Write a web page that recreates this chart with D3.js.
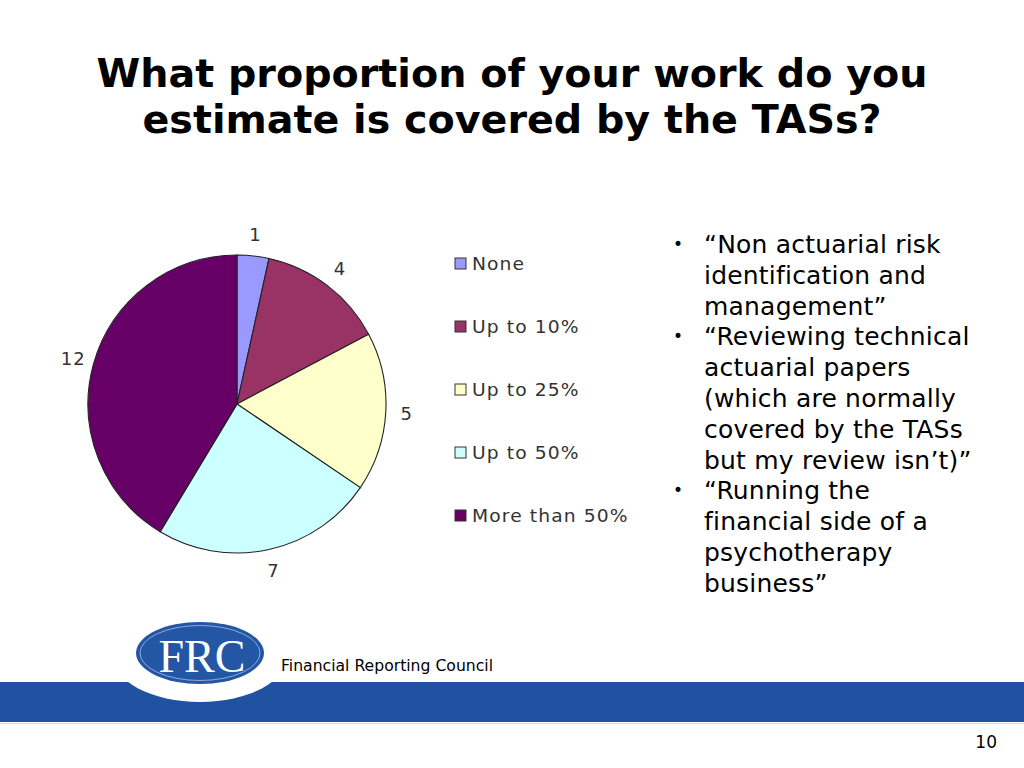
<!DOCTYPE html>
<html><head><meta charset="utf-8">
<script src="https://cdn.jsdelivr.net/npm/d3@7"></script>
<style>body{margin:0;background:#fff}svg{display:block}</style>
</head><body>
<script>
const categories = ["None", "Up to 10%", "Up to 25%", "Up to 50%", "More than 50%"];
const values = [1, 4, 5, 7, 12];
const colors = ["#9999FF", "#993366", "#FFFFCC", "#CCFFFF", "#660066"];
const titleLines = ["What proportion of your work do you", "estimate is covered by the TASs?"];
const bullets = [
  ["\u201CNon actuarial risk", "identification and", "management\u201D"],
  ["\u201CReviewing technical", "actuarial papers", "(which are normally", "covered by the TASs", "but my review isn\u2019t)\u201D"],
  ["\u201CRunning the", "financial side of a", "psychotherapy", "business\u201D"]
];

const W = 1024, H = 768;
const svg = d3.select("body").append("svg").attr("width", W).attr("height", H);
const font = "Verdana, 'DejaVu Sans', sans-serif";

// Title
const titleWidths = [831, 739];
svg.append("g").selectAll("text").data(titleLines).join("text")
  .attr("x", 512).attr("y", (d, i) => 87 + i * 46)
  .attr("text-anchor", "middle").attr("font-family", font).attr("font-weight", "bold")
  .attr("font-size", 39).attr("fill", "#000")
  .attr("textLength", (d, i) => titleWidths[i]).attr("lengthAdjust", "spacingAndGlyphs")
  .text(d => d);

// Pie
const cx = 237, cy = 404, r = 149;
const pie = d3.pie().sort(null).value(d => d.v);
const data = pie(categories.map((c, i) => ({c, v: values[i], col: colors[i]})));
const arc = d3.arc().innerRadius(0).outerRadius(r);
const labelArc = d3.arc().innerRadius(170).outerRadius(170);
const g = svg.append("g").attr("transform", `translate(${cx},${cy})`);
g.selectAll("path").data(data).join("path")
  .attr("d", arc).attr("fill", d => d.data.col)
  .attr("stroke", "#222").attr("stroke-width", 1.1);
g.selectAll("text").data(data).join("text")
  .attr("transform", d => `translate(${labelArc.centroid(d)})`)
  .attr("text-anchor", "middle").attr("dy", "0.36em")
  .attr("font-family", font).attr("font-size", 18).attr("letter-spacing", 1).attr("fill", "#333")
  .text(d => d.data.v);

// Legend
const leg = svg.append("g");
const rowY = d3.scalePoint().domain(categories).range([264, 516]);
const li = leg.selectAll("g").data(categories).join("g")
  .attr("transform", d => `translate(455,${rowY(d)})`);
li.append("rect").attr("x", 0).attr("y", -6).attr("width", 11).attr("height", 11)
  .attr("fill", (d, i) => colors[i]).attr("stroke", "#333").attr("stroke-width", 1);
li.append("text").attr("transform", "translate(17,0) scale(1.1,1)").attr("dy", "0.36em")
  .attr("font-family", font).attr("font-size", 17).attr("letter-spacing", 1)
  .attr("fill", "#333").text(d => d);

// Bullets
const bg = svg.append("g");
let lineIdx = 0;
const lineH = 30.8, y0 = 253;
bullets.forEach(b => {
  bg.append("text").attr("x", 673).attr("y", y0 + lineIdx * lineH - 3)
    .attr("font-family", font).attr("font-size", 17).attr("fill", "#000").text("\u2022");
  b.forEach(t => {
    bg.append("text").attr("x", 704).attr("y", y0 + lineIdx * lineH)
      .attr("font-family", font).attr("font-size", 25).attr("letter-spacing", 0.2)
      .attr("fill", "#000").text(t);
    lineIdx++;
  });
});

// Footer band
svg.append("rect").attr("x", 0).attr("y", 682).attr("width", W).attr("height", 40).attr("fill", "#2152A2");
svg.append("line").attr("x1", 0).attr("x2", W).attr("y1", 723.5).attr("y2", 723.5).attr("stroke", "#d8dde8");
// Logo
svg.append("ellipse").attr("cx", 200).attr("cy", 655).attr("rx", 88).attr("ry", 47).attr("fill", "#fff");
svg.append("ellipse").attr("cx", 200).attr("cy", 653).attr("rx", 64).attr("ry", 31).attr("fill", "#2357A5");
svg.append("ellipse").attr("cx", 200).attr("cy", 653).attr("rx", 60).attr("ry", 27.5).attr("fill", "none")
  .attr("stroke", "#fff").attr("stroke-width", 0.7).attr("opacity", 0.7);
svg.append("text").attr("x", 202).attr("y", 672).attr("text-anchor", "middle")
  .attr("font-family", "'Liberation Serif', 'Times New Roman', serif").attr("font-size", 46)
  .attr("fill", "#fff").text("FRC");
svg.append("text").attr("x", 281).attr("y", 671)
  .attr("font-family", font).attr("font-size", 15).attr("fill", "#000")
  .attr("textLength", 212).attr("lengthAdjust", "spacingAndGlyphs")
  .text("Financial Reporting Council");
svg.append("text").attr("x", 997).attr("y", 748).attr("text-anchor", "end")
  .attr("font-family", font).attr("font-size", 17).attr("fill", "#000").text("10");
</script>
</body></html>
